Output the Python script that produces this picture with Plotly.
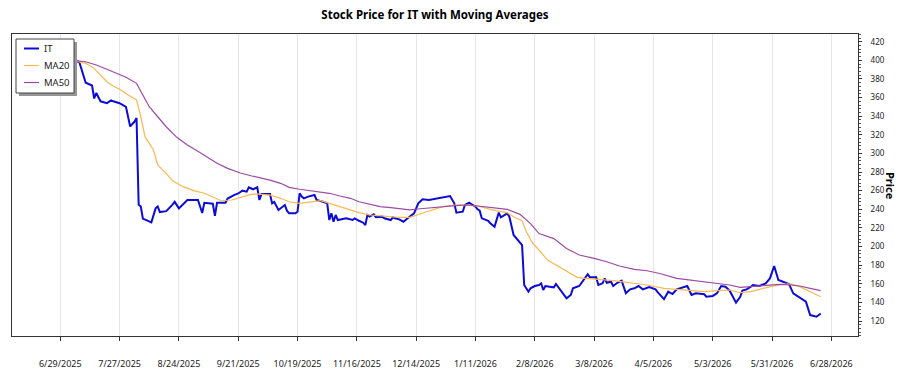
import plotly.graph_objects as go

# ---------------- data ----------------
it_dates = (
    ["2025-06-23", "2025-07-06", "2025-07-08", "2025-07-11", "2025-07-14", "2025-07-15", "2025-07-16",
     "2025-07-17", "2025-07-18", "2025-07-21", "2025-07-23", "2025-07-24", "2025-07-27", "2025-07-30", "2025-07-31"]
    + ["2025-08-01", "2025-08-03", "2025-08-04", "2025-08-05", "2025-08-06", "2025-08-07", "2025-08-11", "2025-08-13",
       "2025-08-14", "2025-08-15", "2025-08-18", "2025-08-21", "2025-08-22", "2025-08-24", "2025-08-28"]
    + ["2025-09-02", "2025-09-04", "2025-09-05", "2025-09-09", "2025-09-10", "2025-09-11", "2025-09-15", "2025-09-16",
       "2025-09-19", "2025-09-21", "2025-09-23", "2025-09-25", "2025-09-26", "2025-09-28", "2025-09-30"]
    + ["2025-10-01", "2025-10-02", "2025-10-06", "2025-10-07", "2025-10-08", "2025-10-10", "2025-10-12", "2025-10-13",
       "2025-10-14", "2025-10-15", "2025-10-18", "2025-10-19", "2025-10-20", "2025-10-21", "2025-10-22", "2025-10-24",
       "2025-10-27", "2025-10-28", "2025-10-31"]
    + ["2025-11-02", "2025-11-03", "2025-11-04", "2025-11-05", "2025-11-06", "2025-11-07", "2025-11-09", "2025-11-11",
       "2025-11-14", "2025-11-15", "2025-11-17", "2025-11-19", "2025-11-20", "2025-11-21", "2025-11-22", "2025-11-24",
       "2025-11-25", "2025-11-28", "2025-11-29"]
    + ["2025-12-02", "2025-12-03", "2025-12-04", "2025-12-06", "2025-12-08", "2025-12-10", "2025-12-13", "2025-12-15",
       "2025-12-17", "2025-12-20", "2025-12-22", "2025-12-25", "2025-12-30"]
    + ["2026-01-01", "2026-01-02", "2026-01-05", "2026-01-06", "2026-01-08", "2026-01-11", "2026-01-12", "2026-01-13",
       "2026-01-14", "2026-01-17", "2026-01-18", "2026-01-20", "2026-01-22", "2026-01-23", "2026-01-26", "2026-01-27",
       "2026-01-29"]
    + ["2026-02-02", "2026-02-03", "2026-02-05", "2026-02-06", "2026-02-08", "2026-02-10", "2026-02-11", "2026-02-12",
       "2026-02-13", "2026-02-15", "2026-02-17", "2026-02-18", "2026-02-20", "2026-02-23", "2026-02-25", "2026-02-26"]
    + ["2026-03-01", "2026-03-03", "2026-03-05", "2026-03-06", "2026-03-09", "2026-03-10", "2026-03-12", "2026-03-13",
       "2026-03-14", "2026-03-16", "2026-03-17", "2026-03-19", "2026-03-21", "2026-03-23", "2026-03-25", "2026-03-27",
       "2026-03-29", "2026-03-31"]
    + ["2026-04-02", "2026-04-03", "2026-04-06", "2026-04-07", "2026-04-10", "2026-04-12", "2026-04-14", "2026-04-16",
       "2026-04-21", "2026-04-23", "2026-04-25", "2026-04-29", "2026-04-30"]
    + ["2026-05-03", "2026-05-05", "2026-05-07", "2026-05-09", "2026-05-11", "2026-05-14", "2026-05-16", "2026-05-17",
       "2026-05-19", "2026-05-21", "2026-05-22", "2026-05-25", "2026-05-28", "2026-05-30"]
    + ["2026-06-01", "2026-06-03", "2026-06-05", "2026-06-08", "2026-06-10", "2026-06-13", "2026-06-16", "2026-06-18",
       "2026-06-21", "2026-06-23"]
)
it_values = (
    [400, 400, 398, 376, 373, 359, 365, 361, 356, 354, 357, 356, 354, 350, 339]
    + [329, 334, 338, 245, 243, 230, 226, 241, 243, 237, 238, 245, 248, 241, 250]
    + [250, 236, 247, 246, 233, 247, 247, 251.5, 255.3, 257, 260, 259, 263.6, 261.5, 263.6]
    + [250, 256.4, 256.4, 246.4, 248, 239.3, 242.8, 244.6, 238.5, 235.7, 235.7, 237.4, 257.2, 253.6, 251.8, 253.6,
       255.3, 250, 248.1]
    + [246.4, 228.5, 235.7, 226.7, 233.9, 228.5, 229.2, 230.3, 228.5, 230.3, 227.7, 225.6, 223.1, 233.9, 232.1, 234.6,
       231.4, 232.1, 230.3]
    + [228.5, 231.4, 230.3, 229.2, 226.7, 230.3, 235.7, 246.4, 250.7, 250, 250.7, 251.8, 254.3]
    + [246.4, 236.4, 237.4, 244.6, 247.1, 242.8, 240, 238.5, 230.3, 227.7, 225, 221.3, 236.4, 231.4, 235.7, 232, 212.4]
    + [201.6, 158.7, 151.5, 155.1, 157.6, 158.7, 160.5, 153.3, 157.6, 156.9, 156.2, 159.8, 153.3, 144.4, 148, 155.1]
    + [157.6, 164, 170.2, 166.9, 166.9, 158.7, 160.5, 165.8, 161.1, 162.2, 157.6, 161.1, 163.3, 149.9, 154, 155.1,
       157.6, 154]
    + [156.2, 156.5, 154, 151, 143.5, 151.5, 149, 154, 157.6, 148, 149.7, 148.7, 146.1]
    + [146.9, 149.7, 157.6, 156.9, 152.6, 139.7, 146.1, 152.6, 154, 156.9, 158.7, 157.6, 160.5, 165.8]
    + [179.1, 164, 162.2, 159.8, 149.7, 145.5, 140.7, 126.4, 124.6, 128.1]
)

ma20_dates = ["2025-06-23", "2025-07-05", "2025-07-11", "2025-07-15", "2025-07-18", "2025-07-21", "2025-07-24",
              "2025-07-27", "2025-07-31", "2025-08-04", "2025-08-06", "2025-08-08", "2025-08-12", "2025-08-14",
              "2025-08-18", "2025-08-21", "2025-08-26", "2025-08-31", "2025-09-05", "2025-09-09", "2025-09-13",
              "2025-09-18", "2025-09-22", "2025-09-27", "2025-10-01", "2025-10-06", "2025-10-11", "2025-10-15",
              "2025-10-20", "2025-10-25", "2025-10-30", "2025-11-03", "2025-11-08", "2025-11-13", "2025-11-17",
              "2025-11-22", "2025-11-27", "2025-12-02", "2025-12-06", "2025-12-11", "2025-12-14", "2025-12-19",
              "2025-12-24", "2025-12-28", "2026-01-02", "2026-01-07", "2026-01-12", "2026-01-16", "2026-01-19",
              "2026-01-26", "2026-01-29", "2026-02-02", "2026-02-04", "2026-02-07", "2026-02-10", "2026-02-14",
              "2026-02-18", "2026-02-23", "2026-02-28", "2026-03-04", "2026-03-11", "2026-03-17", "2026-03-25",
              "2026-04-02", "2026-04-10", "2026-04-16", "2026-04-22", "2026-04-29", "2026-05-05", "2026-05-11",
              "2026-05-16", "2026-05-21", "2026-05-25", "2026-05-30", "2026-06-04", "2026-06-09", "2026-06-13",
              "2026-06-18", "2026-06-23"]
ma20_values = [400, 400, 396.8, 391.4, 384.2, 377, 372.4,
               368.9, 362.8, 357.4, 339.4, 318, 303.7, 287.6,
               278.6, 270.7, 264.3, 260, 257.2, 253.6, 249.2,
               250, 252.5, 256.1, 256.4, 255.3, 251.8, 248.1,
               246.4, 248.1, 249.2, 246.4, 242.8, 239.3, 236.4,
               233.9, 232.8, 232.1, 231.4, 231.4, 233.9, 237.4,
               241, 243.5, 244.6, 244.6, 243.5, 241, 239.3,
               236.4, 232, 227.7, 215.9, 203.5, 196.3, 185.5,
               180.1, 172.9, 166.9, 165.8, 164.7, 163.3, 161.1,
               158.7, 155, 154, 153.3, 151.5, 152.6, 153.3,
               150.4, 151.5, 154, 156.9, 159.4, 159.8, 156.9,
               151.5, 146.1]

ma50_dates = ["2025-06-23", "2025-07-05", "2025-07-11", "2025-07-16", "2025-07-21", "2025-07-26", "2025-07-30",
              "2025-08-04", "2025-08-07", "2025-08-10", "2025-08-14", "2025-08-18", "2025-08-23", "2025-08-28",
              "2025-09-01", "2025-09-06", "2025-09-11", "2025-09-16", "2025-09-22", "2025-09-27", "2025-10-01",
              "2025-10-06", "2025-10-11", "2025-10-15", "2025-10-20", "2025-10-25", "2025-10-30", "2025-11-03",
              "2025-11-08", "2025-11-13", "2025-11-17", "2025-11-22", "2025-11-27", "2025-12-02", "2025-12-06",
              "2025-12-11", "2025-12-16", "2025-12-21", "2025-12-25", "2025-12-30", "2026-01-03", "2026-01-08",
              "2026-01-13", "2026-01-18", "2026-01-23", "2026-01-26", "2026-02-01", "2026-02-06", "2026-02-10",
              "2026-02-17", "2026-02-23", "2026-03-01", "2026-03-08", "2026-03-14", "2026-03-20", "2026-03-27",
              "2026-04-02", "2026-04-08", "2026-04-16", "2026-04-22", "2026-04-29", "2026-05-05", "2026-05-11",
              "2026-05-16", "2026-05-21", "2026-05-25", "2026-05-30", "2026-06-04", "2026-06-09", "2026-06-13",
              "2026-06-18", "2026-06-23"]
ma50_values = [400, 400, 398.5, 395, 390.4, 386.1, 381.8,
               375.3, 362.8, 350.2, 339.4, 328.7, 317.3, 309,
               303.7, 296.5, 289.4, 284, 279, 276, 274.3,
               271.4, 267.9, 263.6, 261.5, 260, 258.9, 257.2,
               254.3, 251.8, 248.1, 245.4, 242.8, 241.7, 240.6,
               239.3, 240.6, 241.7, 242.8, 243.5, 244.3, 244.6,
               243.5, 242.1, 241, 240, 234.6, 224.6, 213.9,
               208.5, 197.8, 190.9, 187.3, 183.7, 179.1, 175.5,
               174, 171, 165.8, 164, 162.2, 159.8, 158.7,
               156.2, 156.9, 157.6, 157.9, 159.4, 158.7, 157.6,
               155.1, 152.6]

series_names = ["IT", "MA20", "MA50"]
series_colors = ["rgb(12,12,214)", "rgb(250,185,80)", "rgb(155,75,165)"]
series_widths = [2, 1.2, 1.2]
title_text = "Stock Price for IT with Moving Averages"
y_title = "Price"

# ---------------- figure ----------------
FONT = "Noto Sans, Open Sans, sans-serif"
W, H = 900, 375
ML, MR, MT, MB = 12, 42, 34, 39
PW, PH = W - ML - MR, H - MT - MB


def px(xpix):
    return (xpix - ML) / PW


def py(ypix):
    return (H - MB - ypix) / PH


fig = go.Figure()
for name, xs, ys, col, wd in zip(series_names,
                                 [it_dates, ma20_dates, ma50_dates],
                                 [it_values, ma20_values, ma50_values],
                                 series_colors, series_widths):
    fig.add_trace(go.Scatter(x=xs, y=ys, mode="lines", name=name,
                             line=dict(color=col, width=wd), showlegend=False))

# ---- legend box (with drop shadow) drawn in the upper-left corner ----
LX0, LX1, LY0, LY1 = 16, 74, 39, 93
fig.add_shape(type="rect", xref="paper", yref="paper",
              x0=px(LX0 + 3), x1=px(LX1 + 3), y0=py(LY1 + 3), y1=py(LY0 + 3),
              fillcolor="rgb(150,150,150)", line_width=0, layer="above")
fig.add_shape(type="rect", xref="paper", yref="paper",
              x0=px(LX0), x1=px(LX1), y0=py(LY1), y1=py(LY0),
              fillcolor="white", line=dict(color="#444", width=1), layer="above")
for i, (name, col, wd) in enumerate(zip(series_names, series_colors, series_widths)):
    yy = 48.5 + 17 * i
    fig.add_shape(type="line", xref="paper", yref="paper",
                  x0=px(24), x1=px(39), y0=py(yy), y1=py(yy),
                  line=dict(color=col, width=wd), layer="above")
    fig.add_annotation(text=name, xref="paper", yref="paper", x=px(42), y=py(yy),
                       xanchor="left", yanchor="middle", showarrow=False,
                       font=dict(family=FONT, size=9.5, color="#222"))

fig.update_layout(
    width=W, height=H,
    margin=dict(l=ML, r=MR, t=MT, b=MB, autoexpand=False),
    paper_bgcolor="white", plot_bgcolor="white",
    font=dict(family=FONT, size=10, color="#222"),
    title=dict(text="<b>" + title_text + "</b>", x=0.5, xref="paper", xanchor="center",
               y=1 - 15 / H, yref="container", yanchor="middle",
               font=dict(family=FONT, size=11.5, color="black")),
    showlegend=False,
    hovermode=False,
)

fig.update_xaxes(
    type="date",
    automargin=False,
    range=["2025-06-06 05:00", "2026-07-10 14:00"],
    tick0="2025-06-29", dtick=28 * 86400000, tickformat="%-m/%-d/%Y",
    ticks="outside", ticklen=4, tickcolor="#333",
    ticklabelstandoff=15,
    showgrid=True, gridcolor="#e6e6e6", gridwidth=1,
    showline=True, linecolor="#333", linewidth=1, mirror=True,
    zeroline=False,
    tickfont=dict(family=FONT, size=9, color="#222"),
)
fig.update_yaxes(
    automargin=False,
    side="right",
    range=[103.9, 428.3],
    tick0=0, dtick=20,
    ticks="outside", ticklen=3, tickcolor="#333",
    ticklabelstandoff=7,
    minor=dict(ticks="outside", ticklen=2, dtick=4, tickcolor="#555", showgrid=False),
    showgrid=False, zeroline=False,
    showline=True, linecolor="#333", linewidth=1, mirror=True,
    tickfont=dict(family=FONT, size=8, color="#222"),
)

fig.add_annotation(text="<b>" + y_title + "</b>", xref="paper", yref="paper",
                   x=px(891), y=py(186), showarrow=False, textangle=90,
                   font=dict(family=FONT, size=11, color="black"), xanchor="center", yanchor="middle")

fig.write_html("out.html")
